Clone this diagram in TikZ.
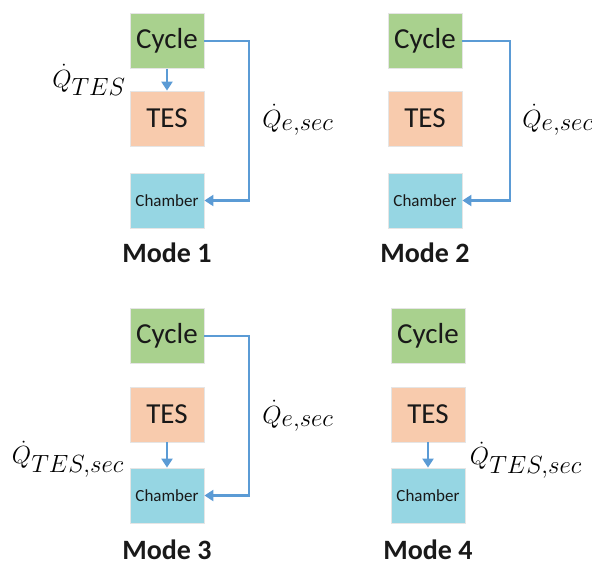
\documentclass[tikz,border=0pt]{standalone}
\usepackage{fontspec}
\setmainfont{Carlito}
\usetikzlibrary{arrows.meta}
\definecolor{cycg}{HTML}{A9D18E}
\definecolor{tesor}{HTML}{F8CBAD}
\definecolor{chcy}{HTML}{96D6E3}
\definecolor{lineblue}{HTML}{5B9BD5}
\tikzset{
  box/.style={draw=black!10, line width=0.8pt, minimum width=74pt, minimum height=55pt, inner sep=0pt, text=black!90},
  cyc/.style={box, fill=cycg, font=\fontsize{29}{31}\selectfont},
  tes/.style={box, fill=tesor, font=\fontsize{29}{31}\selectfont},
  cham/.style={box, fill=chcy, font=\fontsize{17}{19}\selectfont},
  modelbl/.style={font=\fontsize{28}{30}\selectfont\bfseries, text=black!90, inner sep=0pt},
  qlbl/.style={font=\fontsize{35}{38}\selectfont, inner sep=0pt},
  flow/.style={draw=lineblue, line width=2.2pt, -{Triangle[length=9pt,width=11pt]}},
}
\begin{document}
\begin{tikzpicture}[x=1pt,y=-1pt]
\useasboundingbox (0,0) rectangle (592,563);
% Mode 1
\node[cyc] (c1) at (167,41) {Cycle};
\node[tes] (t1) at (167,118.5) {TES};
\node[cham] (h1) at (167,200.5) {Chamber};
\node[modelbl] (m1) at (167,253) {Mode 1};
\coordinate (k1) at (249,41);
\draw[flow] (c1.east) -- (k1) |- (h1.east);
\draw[flow] (c1.south) -- (t1.north);
\node[qlbl] (q1a) at (89,80) {$\dot{Q}_{TES}$};
\node[qlbl] (q1b) at (298,120) {$\dot{Q}_{e,sec}$};
% Mode 2
\node[cyc] (c2) at (425,41) {Cycle};
\node[tes] (t2) at (425,118.5) {TES};
\node[cham] (h2) at (425,200.5) {Chamber};
\node[modelbl] (m2) at (425,253) {Mode 2};
\coordinate (k2) at (510,41);
\draw[flow] (c2.east) -- (k2) |- (h2.east);
\node[qlbl] (q2b) at (558,120) {$\dot{Q}_{e,sec}$};
% Mode 3
\node[cyc] (c3) at (167,336) {Cycle};
\node[tes] (t3) at (167,414.5) {TES};
\node[cham] (h3) at (167,495.5) {Chamber};
\node[modelbl] (m3) at (167,550) {Mode 3};
\coordinate (k3) at (249,336);
\draw[flow] (c3.east) -- (k3) |- (h3.east);
\draw[flow] (t3.south) -- (h3.north);
\node[qlbl] (q3a) at (68,459) {$\dot{Q}_{TES,sec}$};
\node[qlbl] (q3b) at (298,416) {$\dot{Q}_{e,sec}$};
% Mode 4
\node[cyc] (c4) at (428,336) {Cycle};
\node[tes] (t4) at (428,414.5) {TES};
\node[cham] (h4) at (428,495.5) {Chamber};
\node[modelbl] (m4) at (428,550) {Mode 4};
\draw[flow] (t4.south) -- (h4.north);
\node[qlbl] (q4a) at (526,460) {$\dot{Q}_{TES,sec}$};
\end{tikzpicture}
\end{document}
